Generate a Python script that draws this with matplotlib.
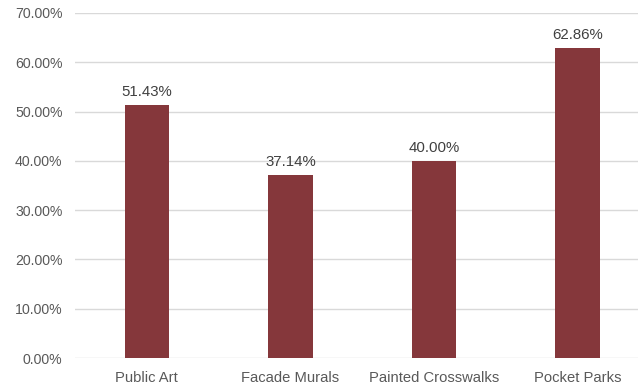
import matplotlib.pyplot as plt
from matplotlib.ticker import PercentFormatter

plt.rcParams['font.family'] = ['Liberation Sans', 'DejaVu Sans']

categories = ["Public Art", "Facade Murals", "Painted Crosswalks", "Pocket Parks"]
values = [51.43, 37.14, 40.00, 62.86]

fig = plt.figure(figsize=(6.38, 3.86), dpi=100)
ax = fig.add_axes([75 / 638, 28 / 386, 1 - 75 / 638, 345 / 386])

x = range(len(categories))
ax.bar(x, values, width=0.31, color="#85373B", zorder=3)
for xi, v in zip(x, values):
    ax.text(xi, v + 1.2, f"{v:.2f}%", ha="center", va="bottom",
            fontsize=10.8, color="#404040")

ax.set_ylim(0, 70)
ax.set_xlim(-0.5, 3 + (638 - 577.5) / 143.5)
ax.set_yticks(range(0, 71, 10))
ax.yaxis.set_major_formatter(PercentFormatter(decimals=2))
ax.set_xticks(list(x))
ax.set_xticklabels(categories)
ax.tick_params(axis="both", length=0, labelcolor="#595959")
ax.tick_params(axis="y", pad=9, labelsize=10.2)
ax.tick_params(axis="x", pad=9, labelsize=10.6)
ax.grid(axis="y", color="#D9D9D9", linewidth=1, zorder=0)
for s in ax.spines.values():
    s.set_visible(False)

fig.savefig("out.png", dpi=100)
